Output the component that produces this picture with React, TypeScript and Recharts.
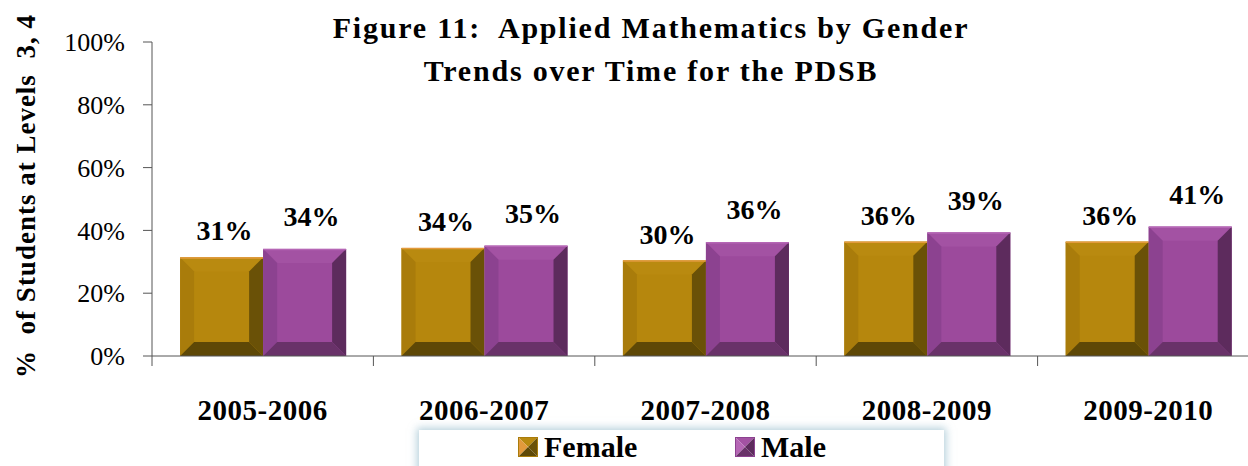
import { BarChart, Bar, XAxis, YAxis, LabelList } from 'recharts';

const categories = ['2005-2006', '2006-2007', '2007-2008', '2008-2009', '2009-2010'];
const femaleValues = [31.4, 34.4, 30.4, 36.4, 36.4];
const maleValues = [34.1, 35.1, 36.2, 39.3, 41.2];
const yTicks = [0, 20, 40, 60, 80, 100];
const titleLines = ['Figure 11:  Applied Mathematics by Gender', 'Trends over Time for the PDSB'];

const chartData = categories.map((year, i) => ({
  year,
  Female: femaleValues[i],
  Male: maleValues[i],
}));

const FONT = '"Liberation Serif", "DejaVu Serif", serif';
const PLOT_RIGHT = 1259; // the original plot runs a bit past the picture edge

const palettes: Record<string, { face: string; left: string; right: string; bottom: string; top: string; edge: string }> = {
  Female: { face: '#B6870D', left: '#A97C0B', right: '#6A5107', bottom: '#5E4806', top: '#B98A10', edge: '#E39A3C' },
  Male: { face: '#9C4A9C', left: '#8C4290', right: '#5D2B5D', bottom: '#693269', top: '#A352A3', edge: '#B566B5' },
};

// beveled box like the old Excel "bevel" bar style
const BevelBar = (props: any) => {
  const { x, y, width, height, dataKey } = props;
  if (!height || height <= 0) return null;
  const c = palettes[dataKey] || palettes.Female;
  const b = Math.min(14, width / 4, height / 3);
  const pts = (arr: number[][]) => arr.map((p) => p.join(',')).join(' ');
  return (
    <g>
      <rect x={x} y={y} width={width} height={height} fill={c.face} />
      <polygon points={pts([[x, y], [x + width, y], [x + width - b, y + b], [x + b, y + b]])} fill={c.top} />
      <polygon points={pts([[x, y], [x + b, y + b], [x + b, y + height - b], [x, y + height]])} fill={c.left} />
      <polygon points={pts([[x + width, y], [x + width, y + height], [x + width - b, y + height - b], [x + width - b, y + b]])} fill={c.right} />
      <polygon points={pts([[x, y + height], [x + b, y + height - b], [x + width - b, y + height - b], [x + width, y + height]])} fill={c.bottom} />
      <line x1={x} x2={x + width} y1={y + 0.5} y2={y + 0.5} stroke={c.edge} strokeWidth={1.5} />
    </g>
  );
};

const CategoryTick = (props: any) => {
  const { x, y, payload } = props;
  const half = (PLOT_RIGHT - 152) / categories.length / 2;
  return (
    <g>
      <line x1={x - half} x2={x - half} y1={y - 8} y2={y + 2} stroke="#555" />
      <text x={x} y={y + 56} textAnchor="middle" fontFamily={FONT} fontWeight="bold" fontSize={29} letterSpacing={0.5} fill="#000">
        {payload.value}
      </text>
    </g>
  );
};

const LegendIcon = ({ name }: { name: string }) => {
  const c = palettes[name];
  return (
    <svg width={20} height={20} style={{ position: 'absolute', left: 0, top: 7 }}>
      <polygon points="0,0 20,0 10,10" fill={c.top} />
      <polygon points="0,0 10,10 0,20" fill={c.edge} />
      <polygon points="20,0 20,20 10,10" fill={c.right} />
      <polygon points="0,20 10,10 20,20" fill={c.bottom} />
      <rect x={0.5} y={0.5} width={19} height={19} fill="none" stroke={c.left} />
    </svg>
  );
};

const YLabel = (props: any) => {
  const { viewBox } = props;
  const cy = viewBox.y + viewBox.height / 2 - 3;
  return (
    <text
      x={26}
      y={cy}
      transform={`rotate(-90, 26, ${cy})`}
      textAnchor="middle"
      dominantBaseline="central"
      fontFamily={FONT}
      fontWeight="bold"
      fontSize={27}
      letterSpacing={1}
      fill="#000"
      style={{ whiteSpace: 'pre' }}
    >
      {'%  of Students at Levels  3, 4'}
    </text>
  );
};

const labelStyle = { fontFamily: FONT, fontWeight: 'bold', fontSize: 28, fill: '#000' };

const App = () => {
  return (
    <div style={{ position: 'relative', width: 1248, height: 466, background: '#fff', overflow: 'hidden' }}>
      <style>{'body{margin:0}'}</style>
      <BarChart
        width={PLOT_RIGHT}
        height={466}
        data={chartData}
        margin={{ top: 42, right: 0, bottom: 80, left: 0 }}
        barCategoryGap="12.7%"
        barGap={0}
      >
        <XAxis dataKey="year" height={30} stroke="#555" tickLine={false} tick={<CategoryTick />} interval={0} />
        <YAxis
          width={152}
          domain={[0, 100]}
          ticks={yTicks}
          stroke="#555"
          tickSize={9}
          tickMargin={18}
          tickFormatter={(v: number) => `${v}%`}
          tick={{ fontFamily: FONT, fontSize: 26, fill: '#000' }}
          label={<YLabel />}
        />
        <Bar dataKey="Female" shape={<BevelBar dataKey="Female" />} isAnimationActive={false}>
          <LabelList
            dataKey="Female"
            position="top"
            offset={17}
            formatter={(v: number) => `${Math.round(v)}%`}
            style={labelStyle}
            dx={3}
          />
        </Bar>
        <Bar dataKey="Male" shape={<BevelBar dataKey="Male" />} isAnimationActive={false}>
          <LabelList
            dataKey="Male"
            position="top"
            offset={23}
            formatter={(v: number) => `${Math.round(v)}%`}
            style={labelStyle}
            dx={7}
          />
        </Bar>
      </BarChart>
      <div
        style={{
          position: 'absolute',
          left: 0,
          top: 0,
          width: 1302,
          textAlign: 'center',
          fontFamily: FONT,
          fontWeight: 'bold',
          fontSize: 30,
          letterSpacing: 1.8,
          lineHeight: '43px',
          paddingTop: 6,
        }}
      >
        {titleLines.map((t) => (
          <div key={t} style={{ whiteSpace: 'pre' }}>{t}</div>
        ))}
      </div>
      <div
        style={{
          position: 'absolute',
          left: 419,
          top: 430,
          width: 525,
          height: 44,
          background: '#fff',
          boxShadow: '0 0 8px 2px rgba(120,170,190,0.55)',
          fontFamily: FONT,
          fontWeight: 'bold',
          fontSize: 30,
          lineHeight: '34px',
        }}
      >
        {['Female', 'Male'].map((name, i) => (
          <div key={name} style={{ position: 'absolute', left: i === 0 ? 99 : 316, top: 0, paddingLeft: 26 }}>
            <LegendIcon name={name} />
            {name}
          </div>
        ))}
      </div>
    </div>
  );
};

export default App;
